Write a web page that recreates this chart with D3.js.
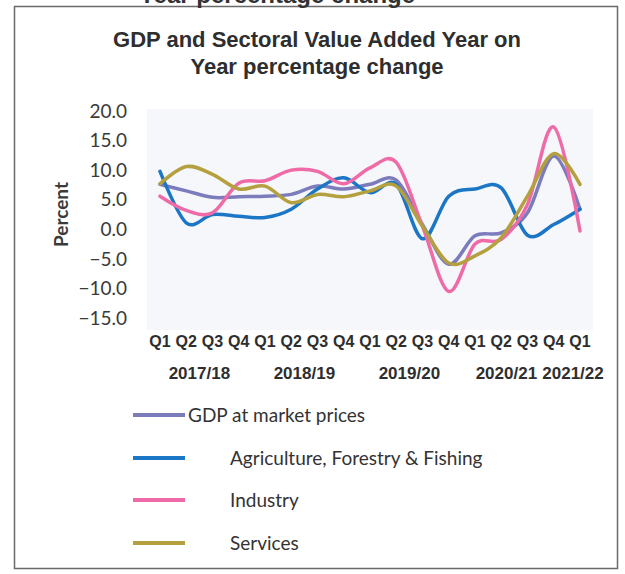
<!DOCTYPE html>
<html>
<head>
<meta charset="utf-8">
<script src="https://cdn.jsdelivr.net/npm/d3@7"></script>
<style>
  body { margin: 0; background: #fff; }
  svg { display: block; }
</style>
</head>
<body>
<svg id="chart" width="625" height="574"></svg>
<script>
// quarters and fiscal years
var quarters = ["Q1", "Q2", "Q3", "Q4", "Q1", "Q2", "Q3", "Q4", "Q1", "Q2", "Q3", "Q4", "Q1", "Q2", "Q3", "Q4", "Q1"];
var years = ["2017/18", "2018/19", "2019/20", "2020/21", "2021/22"];
var yearStart = [0, 4, 8, 12, 16];
var yearEnd = [3, 7, 11, 15, 16];

// series values (percent)
var gdp = [7.6, 6.5, 5.4, 5.5, 5.6, 5.9, 7.3, 6.8, 7.6, 8.3, 0.8, -5.9, -1.1, -0.6, 2.8, 12.4, 3.4];
var agriculture = [9.8, 1.1, 2.5, 2.2, 2.0, 3.4, 6.8, 8.7, 6.2, 7.6, -1.6, 5.6, 6.8, 7.0, -1.0, 0.8, 3.4];
var industry = [5.6, 3.2, 2.8, 7.8, 8.2, 10.0, 9.8, 7.7, 10.4, 11.3, 0.5, -10.5, -2.5, -1.7, 4.2, 17.3, -0.3];
var services = [7.7, 10.6, 9.3, 6.8, 7.3, 4.5, 5.9, 5.5, 6.5, 7.3, 0.5, -5.7, -4.5, -1.4, 5.6, 12.8, 7.6];

var yTicks = [20, 15, 10, 5, 0, -5, -10, -15];

var seriesNames = ["GDP at market prices", "Agriculture, Forestry & Fishing", "Industry", "Services"];
var seriesData = [gdp, agriculture, industry, services];
var seriesColors = ["#7c7cbd", "#1b76c6", "#ef6ba8", "#b4a03e"];

var svg = d3.select("svg#chart");

var x = d3.scaleLinear().domain([0, 16]).range([160, 580]);
var y = d3.scaleLinear().domain([-15, 20]).range([318, 111]);

// frame
svg.append("rect")
  .attr("x", 14.5)
  .attr("y", 6.5)
  .attr("width", 603)
  .attr("height", 562)
  .attr("fill", "#fff")
  .attr("stroke", "#6a6a6a")
  .attr("stroke-width", 1.5);

// cut off heading of the page above the frame
svg.append("text")
  .attr("x", 277)
  .attr("y", 3)
  .attr("text-anchor", "middle")
  .style("font-family", "'Liberation Sans', Arial, sans-serif")
  .style("font-weight", "bold")
  .style("font-size", "24px")
  .attr("fill", "#333")
  .text("Year percentage change");

// title
var title = svg.append("text")
  .attr("text-anchor", "middle")
  .style("font-family", "'Liberation Sans', Arial, sans-serif")
  .style("font-weight", "bold")
  .style("font-size", "22px")
  .attr("fill", "#2e2e2e");
title.append("tspan").attr("x", 317).attr("y", 47).text("GDP and Sectoral Value Added Year on");
title.append("tspan").attr("x", 317).attr("y", 74).text("Year percentage change");

// plot area
svg.append("rect")
  .attr("x", x(-0.5))
  .attr("y", y(20) - 2)
  .attr("width", x(16.5) - x(-0.5))
  .attr("height", y(-15) - y(20) + 14)
  .attr("fill", "#f5f7fb");

// y tick labels
svg.append("g")
  .selectAll("text")
  .data(yTicks)
  .join("text")
  .attr("x", 127)
  .attr("y", function (d) { return y(d); })
  .attr("dy", "0.35em")
  .attr("text-anchor", "end")
  .style("font-family", "Lato, sans-serif")
  .style("font-size", "19px")
  .attr("fill", "#3a3a3a")
  .text(function (d) { return d3.format(".1f")(d); });

svg.append("text")
  .attr("transform", "translate(68," + y(2.5) + ") rotate(-90)")
  .attr("text-anchor", "middle")
  .style("font-family", "Lato, sans-serif")
  .style("font-weight", "bold")
  .style("font-size", "19px")
  .attr("fill", "#3a3a3a")
  .text("Percent");

// quarter labels
svg.append("g")
  .selectAll("text")
  .data(quarters)
  .join("text")
  .attr("x", function (d, i) { return x(i); })
  .attr("y", 347)
  .attr("text-anchor", "middle")
  .style("font-family", "'Liberation Sans', Arial, sans-serif")
  .style("font-weight", "bold")
  .style("font-size", "16px")
  .attr("fill", "#2e2e2e")
  .text(function (d) { return d; });

// year labels (last two pushed left like in the original)
var yearNudge = [0, 0, 0, -8, -7];
svg.append("g")
  .selectAll("text")
  .data(years)
  .join("text")
  .attr("x", function (d, i) { return (x(yearStart[i]) + x(yearEnd[i])) / 2 + yearNudge[i]; })
  .attr("y", 379)
  .attr("text-anchor", "middle")
  .style("font-family", "'Liberation Sans', Arial, sans-serif")
  .style("font-weight", "bold")
  .style("font-size", "17px")
  .attr("fill", "#2e2e2e")
  .text(function (d) { return d; });

// lines
var line = d3.line()
  .x(function (d, i) { return x(i); })
  .y(function (d) { return y(d); })
  .curve(d3.curveCatmullRom.alpha(0));

svg.append("g")
  .selectAll("path")
  .data(seriesData)
  .join("path")
  .attr("d", line)
  .attr("fill", "none")
  .attr("stroke", function (d, i) { return seriesColors[i]; })
  .attr("stroke-width", 3.5)
  .attr("stroke-linejoin", "round")
  .attr("stroke-linecap", "round");

// legend
var legendY = [415, 458, 500, 543];
var legendTextX = [188, 230, 230, 230];
var legend = svg.selectAll("g.legendEntry")
  .data(seriesNames)
  .join("g")
  .attr("class", "legendEntry");

legend.append("line")
  .attr("x1", 133)
  .attr("x2", 185)
  .attr("y1", function (d, i) { return legendY[i]; })
  .attr("y2", function (d, i) { return legendY[i]; })
  .attr("stroke", function (d, i) { return seriesColors[i]; })
  .attr("stroke-width", 4);

legend.append("text")
  .attr("x", function (d, i) { return legendTextX[i]; })
  .attr("y", function (d, i) { return legendY[i]; })
  .attr("dy", "0.35em")
  .style("font-family", "Lato, sans-serif")
  .style("font-size", "19px")
  .attr("fill", "#333")
  .text(function (d) { return d; });
</script>
</body>
</html>
